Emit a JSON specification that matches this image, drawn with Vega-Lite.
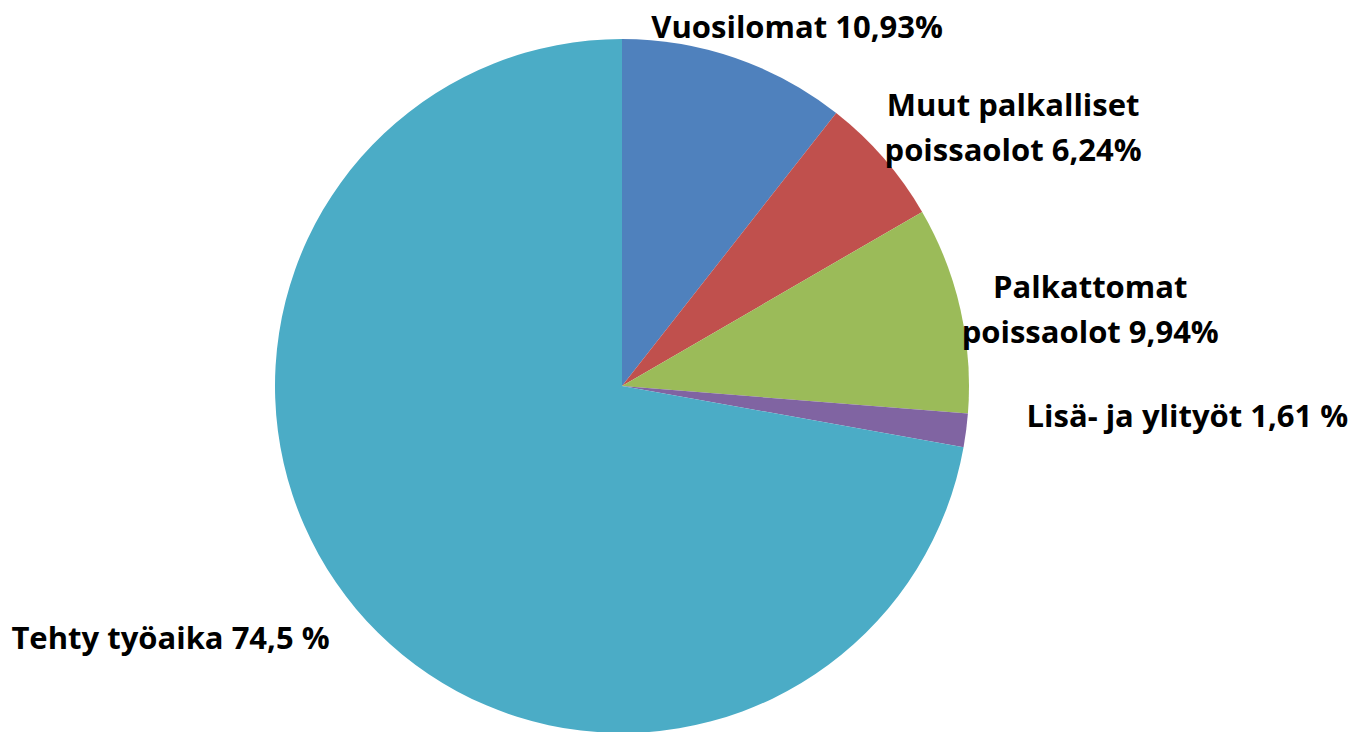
{
  "$schema": "https://vega.github.io/schema/vega-lite/v6.json",
  "width": 1244,
  "height": 772,
  "padding": {"left": 0, "top": 0, "right": 108, "bottom": 0},
  "autosize": {"type": "none"},
  "background": "white",
  "view": {"stroke": null},
  "data": {
    "values": [
      {"i": 1, "k": "Vuosilomat", "v": 10.93, "label": "Vuosilomat 10,93%"},
      {"i": 2, "k": "Muut palkalliset poissaolot", "v": 6.24, "label": "Muut palkalliset\npoissaolot 6,24%"},
      {"i": 3, "k": "Palkattomat poissaolot", "v": 9.94, "label": "Palkattomat\npoissaolot 9,94%"},
      {"i": 4, "k": "Lisä- ja ylityöt", "v": 1.61, "label": "Lisä- ja ylityöt 1,61 %"},
      {"i": 5, "k": "Tehty työaika", "v": 74.5, "label": "Tehty työaika 74,5 %"}
    ]
  },
  "encoding": {
    "theta": {"field": "v", "type": "quantitative", "stack": true},
    "order": {"field": "i", "type": "quantitative", "sort": "ascending"}
  },
  "layer": [
    {
      "mark": {"type": "arc", "outerRadius": 347},
      "encoding": {
        "color": {
          "field": "k", "type": "nominal", "legend": null,
          "scale": {
            "domain": ["Vuosilomat", "Muut palkalliset poissaolot", "Palkattomat poissaolot", "Lisä- ja ylityöt", "Tehty työaika"],
            "range": ["#4F81BD", "#C0504D", "#9BBB59", "#8064A2", "#4BACC6"]
          }
        }
      }
    },
    {
      "mark": {"type": "text", "radius": 380, "dx": 51, "dy": 2, "font": "Open Sans", "fontWeight": "bold", "fontSize": 31, "fill": "#000000", "align": "center", "baseline": "middle", "lineBreak": "\n", "lineHeight": 45},
      "encoding": {"text": {"condition": {"test": "datum.i == 1", "field": "label"}, "value": ""}}
    },
    {
      "mark": {"type": "text", "radius": 395, "dx": 93, "dy": -20, "font": "Open Sans", "fontWeight": "bold", "fontSize": 31, "fill": "#000000", "align": "center", "baseline": "middle", "lineBreak": "\n", "lineHeight": 45},
      "encoding": {"text": {"condition": {"test": "datum.i == 2", "field": "label"}, "value": ""}}
    },
    {
      "mark": {"type": "text", "radius": 475, "dx": 5, "dy": 8, "font": "Open Sans", "fontWeight": "bold", "fontSize": 31, "fill": "#000000", "align": "center", "baseline": "middle", "lineBreak": "\n", "lineHeight": 45},
      "encoding": {"text": {"condition": {"test": "datum.i == 3", "field": "label"}, "value": ""}}
    },
    {
      "mark": {"type": "text", "radius": 560, "dx": 10, "dy": -40, "font": "Open Sans", "fontWeight": "bold", "fontSize": 31, "fill": "#000000", "align": "center", "baseline": "middle", "lineBreak": "\n", "lineHeight": 45},
      "encoding": {"text": {"condition": {"test": "datum.i == 4", "field": "label"}, "value": ""}}
    },
    {
      "mark": {"type": "text", "radius": 500, "dx": -68, "dy": -67, "font": "Open Sans", "fontWeight": "bold", "fontSize": 31, "fill": "#000000", "align": "center", "baseline": "middle", "lineBreak": "\n", "lineHeight": 45},
      "encoding": {"text": {"condition": {"test": "datum.i == 5", "field": "label"}, "value": ""}}
    }
  ]
}
